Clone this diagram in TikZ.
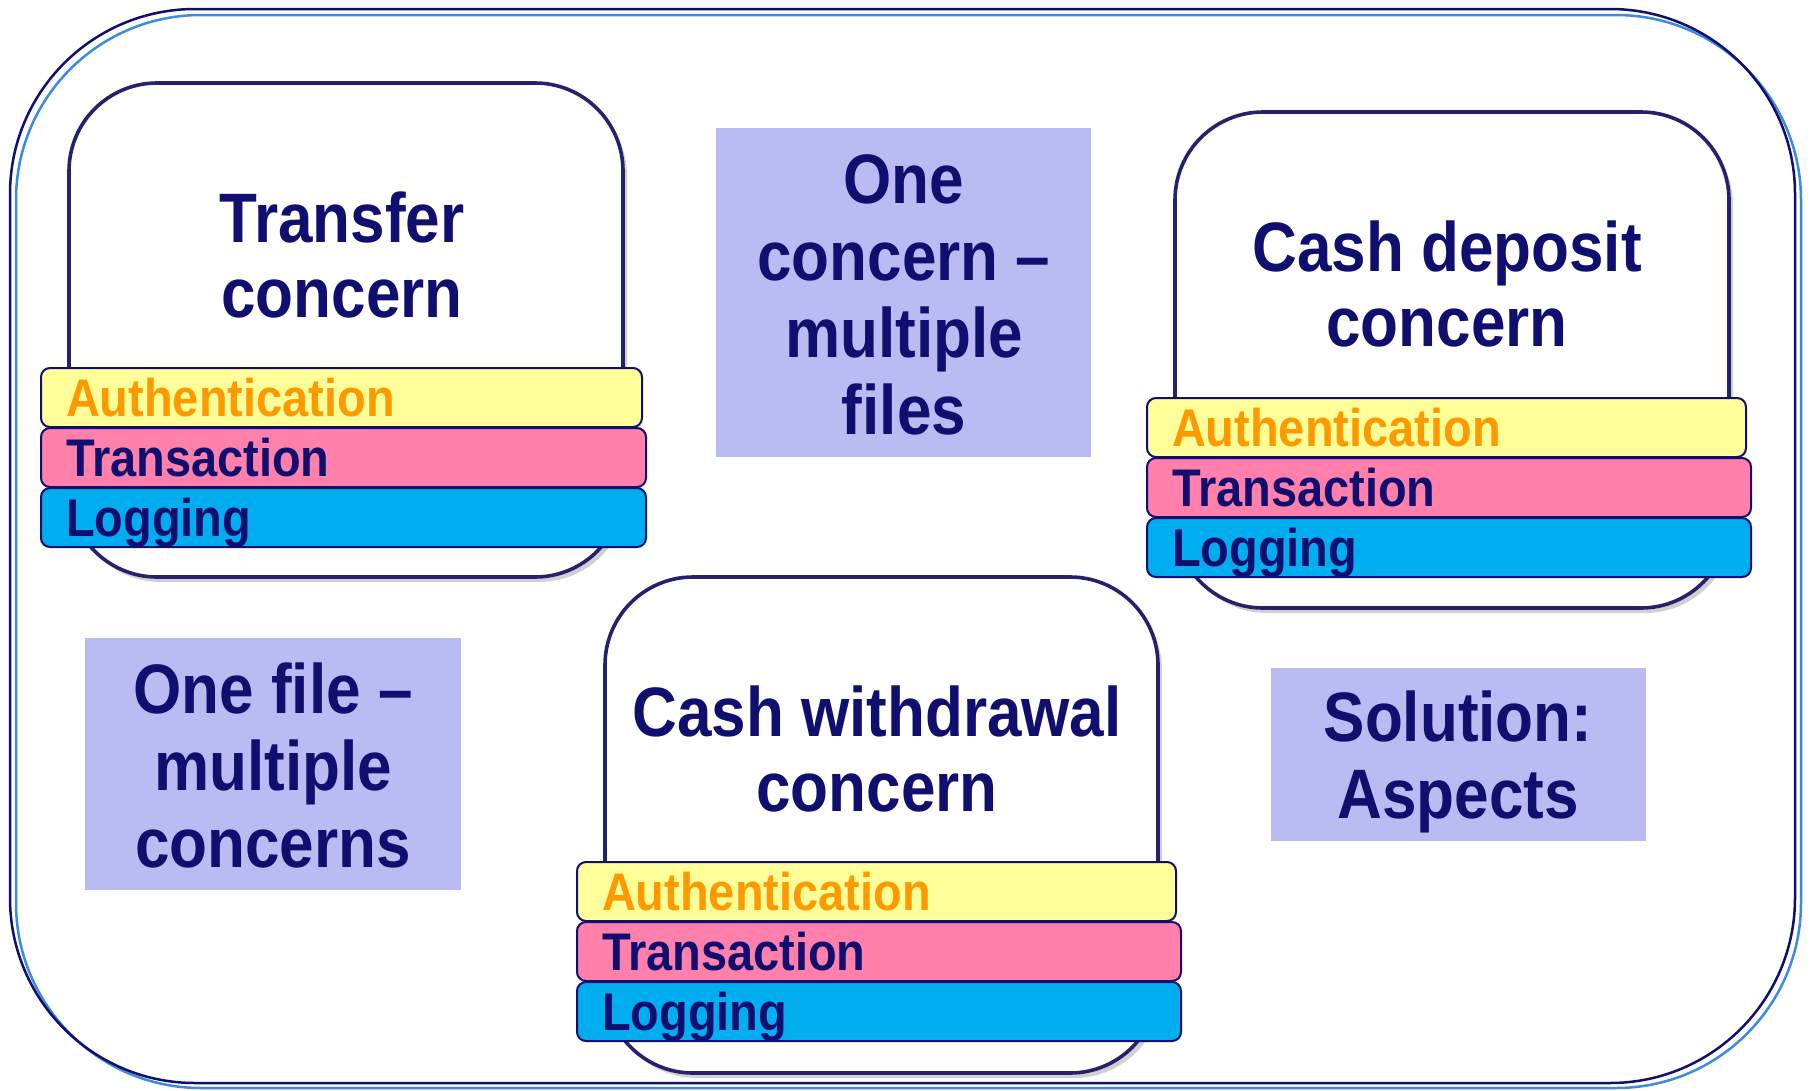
\documentclass[tikz,border=0pt]{standalone}
\usepackage{fontspec}
\setmainfont[FakeStretch=0.886]{Liberation Sans}
\usetikzlibrary{shadows}
\definecolor{navytext}{RGB}{16,14,110}
\definecolor{boxline}{RGB}{38,33,108}
\definecolor{frameblue}{RGB}{60,140,220}
\definecolor{lav}{RGB}{187,187,243}
\definecolor{authfill}{RGB}{255,255,153}
\definecolor{authtext}{RGB}{255,153,0}
\definecolor{transfill}{RGB}{255,128,170}
\definecolor{logfill}{RGB}{0,173,239}
\begin{document}
\begin{tikzpicture}[x=1pt,y=-1pt,
  frame/.style={line width=2.5pt, rounded corners=185pt},
  concern/.style={draw=boxline, line width=3.6pt, fill=white, rounded corners=88pt, inner sep=0pt,
    drop shadow={shadow xshift=4pt, shadow yshift=-5pt, opacity=0.3, fill=black!60}},
  stripe/.style={draw=navytext, line width=2pt, rounded corners=9pt, minimum height=59pt,
    inner xsep=25pt, inner ysep=0pt, text height=38pt, text depth=0pt, align=left, anchor=west,
    font=\fontsize{53}{60}\selectfont\bfseries},
  auth/.style={stripe, fill=authfill, text=authtext},
  trans/.style={stripe, fill=transfill, text=navytext},
  logg/.style={stripe, fill=logfill, text=navytext},
  ctitle/.style={font=\fontsize{70}{75}\selectfont\bfseries, text=navytext, align=center, inner sep=0pt, anchor=base},
  pbox/.style={fill=lav, inner sep=0pt},
  ptext/.style={font=\fontsize{70}{77}\selectfont\bfseries, text=navytext, align=center, inner sep=0pt, anchor=base},
]
\useasboundingbox (0,0) rectangle (1810,1090);
\fill[white] (0,0) rectangle (1810,1090);
% outer frame
\draw[frame, draw=frameblue] (16,15) rectangle (1801,1088);
\draw[frame, draw=navytext] (10,9) rectangle (1795,1083);

% Transfer concern
\node[concern, minimum width=554pt, minimum height=494pt] (tbox) at (346,330) {};
\node[ctitle] (ttitle) at (342,317) {Transfer\\concern};
\node[auth, text width=551pt] (tauth) at (40,397.5) {Authentication};
\node[trans, text width=555pt] (ttrans) at (40,457.5) {Transaction};
\node[logg, text width=555pt] (tlog) at (40,517.5) {Logging};

% Cash deposit concern
\node[concern, minimum width=554pt, minimum height=496pt] (dbox) at (1452,360) {};
\node[ctitle] (dtitle) at (1447,346) {Cash deposit\\concern};
\node[auth, text width=549pt] (dauth) at (1146,427.5) {Authentication};
\node[trans, text width=554pt] (dtrans) at (1146,487.5) {Transaction};
\node[logg, text width=554pt] (dlog) at (1146,547.5) {Logging};

% Cash withdrawal concern
\node[concern, minimum width=553pt, minimum height=496pt] (wbox) at (881.5,825) {};
\node[ctitle] (wtitle) at (877,811) {Cash withdrawal\\concern};
\node[auth, text width=549pt] (wauth) at (576,891.5) {Authentication};
\node[trans, text width=554pt] (wtrans) at (576,951.5) {Transaction};
\node[logg, text width=554pt] (wlog) at (576,1011.5) {Logging};

% lavender notes
\node[pbox, minimum width=375pt, minimum height=329pt] (p1) at (903.5,292.5) {};
\node[ptext] (p1t) at (904,434) {One\\concern –\\multiple\\files};
\node[pbox, minimum width=376pt, minimum height=252pt] (p2) at (273,764) {};
\node[ptext] (p2t) at (273,867) {One file –\\multiple\\concerns};
\node[pbox, minimum width=375pt, minimum height=173pt] (p3) at (1458.5,754.5) {};
\node[ptext] (p3t) at (1458,818) {Solution:\\Aspects};
\end{tikzpicture}
\end{document}
